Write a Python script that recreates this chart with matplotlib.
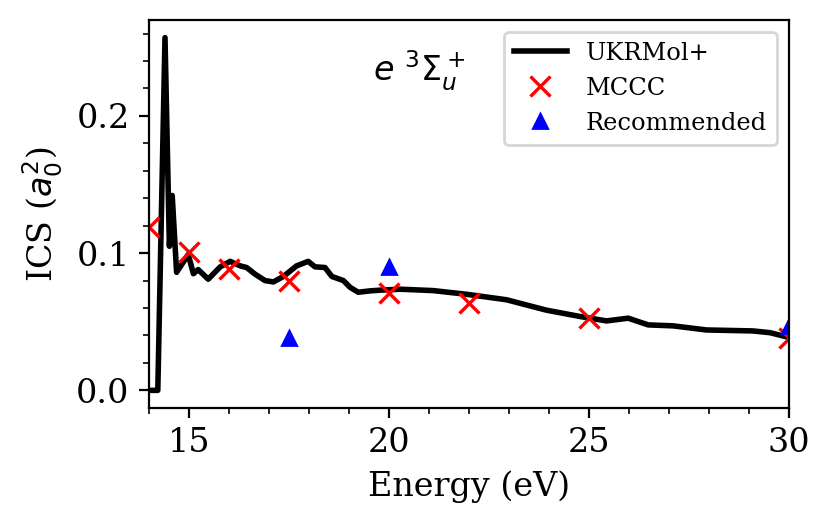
import matplotlib
matplotlib.use("Agg")
import matplotlib.pyplot as plt
from matplotlib.ticker import MultipleLocator

plt.rcParams['font.family'] = 'DejaVu Serif'

ukr_E = [14.0, 14.2, 14.22, 14.4, 14.51, 14.58, 14.69, 14.98, 15.11, 15.23, 15.48, 15.78,
         16.03, 16.28, 16.44, 16.65, 16.9, 17.11, 17.36, 17.69, 17.98, 18.15, 18.4, 18.57,
         18.86, 19.03, 19.23, 19.53, 19.78, 20.28, 21.1, 21.94, 22.94, 23.94, 24.78,
         25.44, 25.98, 26.48, 27.1, 27.94, 29.1, 29.53, 29.94, 30.0]
ukr_ics = [0.0, 0.0, 0.0, 0.257, 0.105, 0.142, 0.086, 0.099, 0.085, 0.088, 0.081, 0.090,
           0.094, 0.0907, 0.0895, 0.0847, 0.080, 0.079, 0.083, 0.0907, 0.0940, 0.090, 0.0895, 0.083,
           0.080, 0.075, 0.0715, 0.0725, 0.0730, 0.0737, 0.0727, 0.070, 0.066, 0.0584, 0.0538,
           0.0506, 0.0526, 0.0477, 0.047, 0.044, 0.0433, 0.042, 0.039, 0.0385]

mccc_E = [14.0, 15.0, 16.0, 17.5, 20.0, 22.0, 25.0, 30.0]
mccc_ics = [0.119, 0.1005, 0.0883, 0.080, 0.0706, 0.0633, 0.053, 0.0385]

rec_E = [17.5, 20.0, 30.0]
rec_ics = [0.038, 0.090, 0.047]

fig = plt.figure(figsize=(831/200, 529/200), dpi=200)
ax = fig.add_axes([149/831, 1-408/529, 640/831, 388/529])

ax.plot(ukr_E, ukr_ics, color='black', lw=2, label='UKRMol+')
ax.plot(mccc_E, mccc_ics, 'x', color='red', ms=7, mew=1.2, label='MCCC')
ax.plot(rec_E, rec_ics, '^', color='blue', ms=5, label='Recommended')

ax.set_xlim(14, 30)
ax.xaxis.set_major_locator(MultipleLocator(5))
ax.xaxis.set_minor_locator(MultipleLocator(1))
ax.yaxis.set_major_locator(MultipleLocator(0.1))
ax.yaxis.set_minor_locator(MultipleLocator(0.02))
ax.tick_params(labelsize=12)
ax.set_xlabel('Energy (eV)', fontsize=12)
ax.set_ylabel('ICS ($a_0^2$)', fontsize=12)
ax.text(0.35, 0.87, r'$e\ ^3\Sigma_u^+$', transform=ax.transAxes, fontsize=12,
        family='DejaVu Sans', va='center')
ax.legend(loc='upper right', fontsize=8.7, handlelength=2.2)

fig.savefig('out.png', dpi=200)
